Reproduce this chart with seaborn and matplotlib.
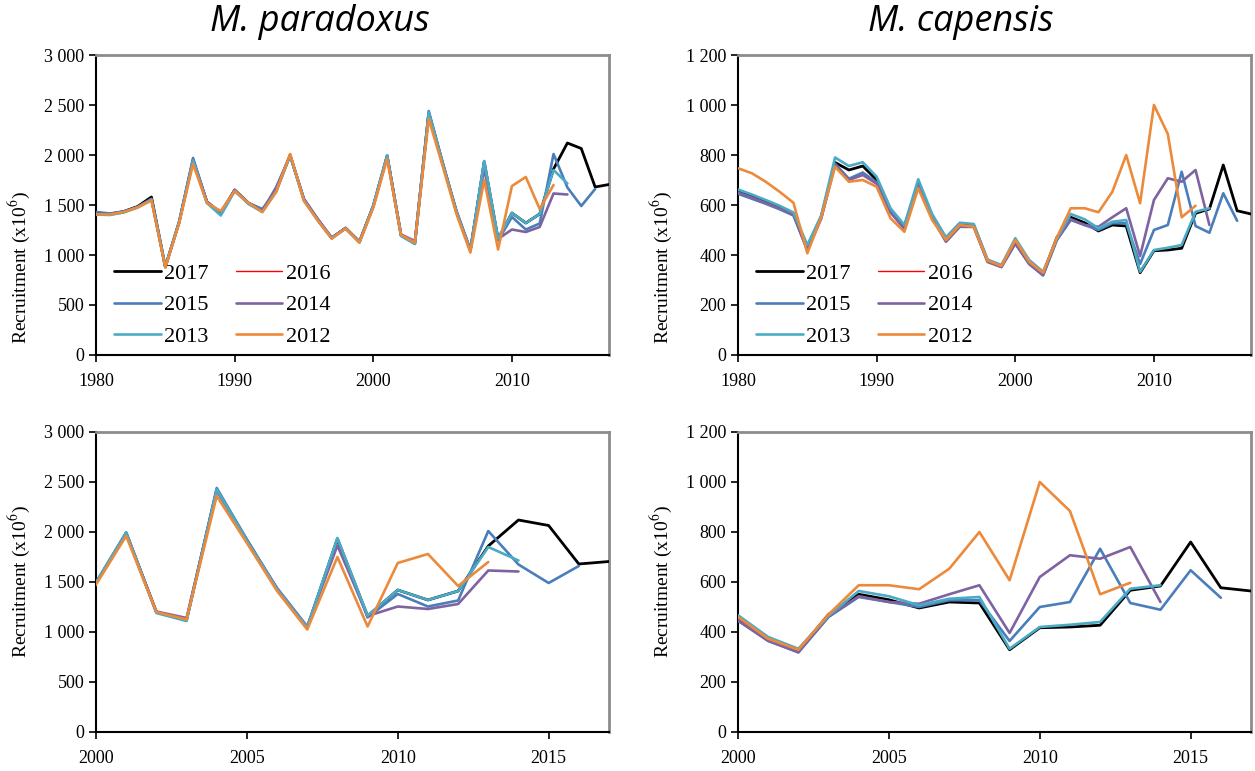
import numpy as np
import pandas as pd
import matplotlib
matplotlib.use("Agg")
import matplotlib.pyplot as plt
from matplotlib.ticker import FuncFormatter, MultipleLocator
import seaborn as sns

# ── data: recruitment (x10^6) by assessment year ─────────────
years = list(range(1980, 2018))

para_2017 = [1420, 1410, 1435, 1485, 1580, 880, 1330, 1950, 1530, 1420,
             1650, 1520, 1445, 1645, 2000, 1550, 1350, 1170, 1270, 1130,
             1490, 1990, 1200, 1120, 2420, 1920, 1430, 1045, 1930, 1160,
             1420, 1320, 1410, 1860, 2120, 2065, 1680, 1705]
para_2016 = [1420, 1410, 1435, 1485, 1580, 880, 1330, 1950, 1530, 1420,
             1650, 1520, 1445, 1645, 2000, 1550, 1350, 1170, 1270, 1130,
             1490, 1990, 1200, 1120, 2420, 1920, 1430, 1045, 1930, 1160,
             1420, 1320, 1410, 1860, 2120, 2065, 1680]
para_2015 = [1430, 1415, 1435, 1480, 1560, 885, 1335, 1970, 1530, 1405,
             1645, 1520, 1460, 1650, 1995, 1560, 1355, 1175, 1265, 1135,
             1495, 1995, 1195, 1115, 2440, 1925, 1430, 1050, 1935, 1145,
             1380, 1255, 1315, 2010, 1675, 1490, 1660]
para_2014 = [1410, 1405, 1430, 1480, 1560, 880, 1330, 1950, 1535, 1420,
             1650, 1515, 1440, 1680, 1995, 1560, 1360, 1170, 1270, 1135,
             1485, 1985, 1205, 1140, 2415, 1910, 1440, 1055, 1865, 1160,
             1255, 1230, 1280, 1615, 1605]
para_2013 = [1405, 1400, 1425, 1475, 1555, 885, 1330, 1945, 1520, 1395,
             1640, 1510, 1430, 1640, 1995, 1545, 1345, 1165, 1265, 1125,
             1495, 1995, 1190, 1110, 2425, 1915, 1430, 1045, 1940, 1165,
             1420, 1320, 1410, 1850, 1715]
para_2012 = [1405, 1405, 1430, 1475, 1545, 875, 1320, 1910, 1520, 1440,
             1640, 1520, 1430, 1630, 2010, 1540, 1345, 1165, 1265, 1125,
             1475, 1960, 1200, 1125, 2360, 1890, 1410, 1025, 1750, 1055,
             1690, 1780, 1460, 1700]

cap_2017 = [655, 635, 612, 590, 565, 425, 553, 770, 740, 756,
            700, 580, 515, 687, 558, 465, 525, 520, 378, 356,
            455, 372, 325, 470, 551, 529, 496, 520, 516, 329,
            417, 420, 427, 567, 584, 760, 577, 564]
cap_2016 = [655, 635, 612, 590, 565, 425, 553, 770, 740, 756,
            700, 580, 515, 687, 558, 465, 525, 520, 378, 356,
            455, 372, 325, 470, 551, 529, 496, 520, 516, 329,
            417, 420, 427, 567, 584, 760, 577]
cap_2015 = [645, 625, 605, 583, 558, 420, 548, 765, 705, 730,
            690, 575, 505, 680, 550, 455, 515, 515, 375, 352,
            445, 365, 318, 460, 540, 520, 500, 527, 527, 364,
            500, 520, 733, 516, 489, 647, 537]
cap_2014 = [650, 630, 608, 586, 562, 418, 545, 760, 700, 720,
            685, 570, 505, 675, 548, 453, 513, 512, 372, 352,
            447, 364, 320, 462, 543, 520, 513, 551, 587, 396,
            620, 707, 693, 740, 520]
cap_2013 = [662, 642, 620, 597, 570, 440, 558, 790, 756, 771,
            713, 587, 520, 703, 564, 471, 529, 524, 382, 360,
            467, 380, 333, 465, 564, 543, 507, 533, 540, 333,
            420, 429, 440, 573, 587]
cap_2012 = [747, 727, 693, 653, 609, 407, 550, 753, 693, 700,
            673, 547, 493, 667, 540, 460, 520, 513, 378, 356,
            460, 373, 329, 470, 587, 587, 571, 653, 800, 607,
            1000, 884, 551, 597]

labels = ['2017', '2016', '2015', '2014', '2013', '2012']
colors = ['#000000', '#ff0000', '#4a7ebb', '#7f63a1', '#4babc5', '#ec8a3c']
widths = [2.0, 1.0, 1.9, 1.9, 1.9, 1.9]
zorders = [3, 2, 4, 5, 6, 7]

para = [para_2017, para_2016, para_2015, para_2014, para_2013, para_2012]
cap = [cap_2017, cap_2016, cap_2015, cap_2014, cap_2013, cap_2012]

# ── style ────────────────────────────────────────────────────
sns.set_theme(style="white")
plt.rcParams['font.family'] = ['Liberation Serif', 'DejaVu Serif']
plt.rcParams['mathtext.fontset'] = 'stix'
plt.rcParams['text.color'] = 'black'
plt.rcParams['axes.labelcolor'] = 'black'
plt.rcParams['xtick.color'] = 'black'
plt.rcParams['ytick.color'] = 'black'

W, H = 1255, 771
fig = plt.figure(figsize=(W / 100, H / 100), dpi=100)


def px_axes(left, top, right, bottom):
    return fig.add_axes([left / W, 1 - bottom / H, (right - left) / W, (bottom - top) / H])


space_fmt = FuncFormatter(lambda v, p: f"{v:,.0f}".replace(",", " "))


def draw(ax, series, xlim, xstep, ylim, ystep, legend, label_y):
    for vals, lab, c, lw, z in zip(series, labels, colors, widths, zorders):
        sns.lineplot(x=years[:len(vals)], y=vals, ax=ax, color=c, linewidth=lw,
                     label=lab, zorder=z, legend=False)
    ax.set_xlim(*xlim)
    ax.set_ylim(*ylim)
    ax.xaxis.set_major_locator(MultipleLocator(xstep))
    ax.yaxis.set_major_locator(MultipleLocator(ystep))
    ax.yaxis.set_major_formatter(space_fmt)
    ax.tick_params(axis='both', direction='out', length=5, width=1.2,
                   labelsize=13, color='black', labelcolor='black',
                   left=True, bottom=True)
    ax.tick_params(axis='x', pad=8)
    for s in ['left', 'bottom']:
        ax.spines[s].set_color('black')
        ax.spines[s].set_linewidth(1.5)
    for s in ['top', 'right']:
        ax.spines[s].set_color('#8c8c8c')
        ax.spines[s].set_linewidth(2.0)
    ax.set_ylabel("Recruitment (x10$^6$)", fontsize=14, color='black')
    ax.yaxis.set_label_coords(-0.125, label_y)
    ax.set_xlabel("")
    if legend:
        h, l = ax.get_legend_handles_labels()
        order = [0, 2, 4, 1, 3, 5]  # row-wise: 2017 2016 / 2015 2014 / 2013 2012
        leg = ax.legend([h[i] for i in order], [l[i] for i in order], ncol=2,
                        loc='lower left', bbox_to_anchor=(-0.003, -0.04),
                        frameon=False, fontsize=16, handlelength=2.1,
                        handletextpad=0.15, columnspacing=1.2, labelspacing=0.5)
        for t in leg.get_texts():
            t.set_color('black')


ax1 = px_axes(96, 55, 609, 355)
ax2 = px_axes(738, 55, 1251, 355)
ax3 = px_axes(96, 432, 609, 732)
ax4 = px_axes(738, 432, 1251, 732)

draw(ax1, para, (1980, 2017), 10, (0, 3000), 500, True, 0.29)
draw(ax2, cap, (1980, 2017), 10, (0, 1200), 200, True, 0.29)
draw(ax3, para, (2000, 2017), 5, (0, 3000), 500, False, 0.5)
draw(ax4, cap, (2000, 2017), 5, (0, 1200), 200, False, 0.5)

fig.text(320 / W, 1 - 22 / H, "M. paradoxus", ha='center', va='center', color='black',
         fontsize=26, style='italic', family=['Open Sans', 'DejaVu Sans'])
fig.text(961 / W, 1 - 22 / H, "M. capensis", ha='center', va='center', color='black',
         fontsize=26, style='italic', family=['Open Sans', 'DejaVu Sans'])

plt.savefig("out.png", dpi=100)
